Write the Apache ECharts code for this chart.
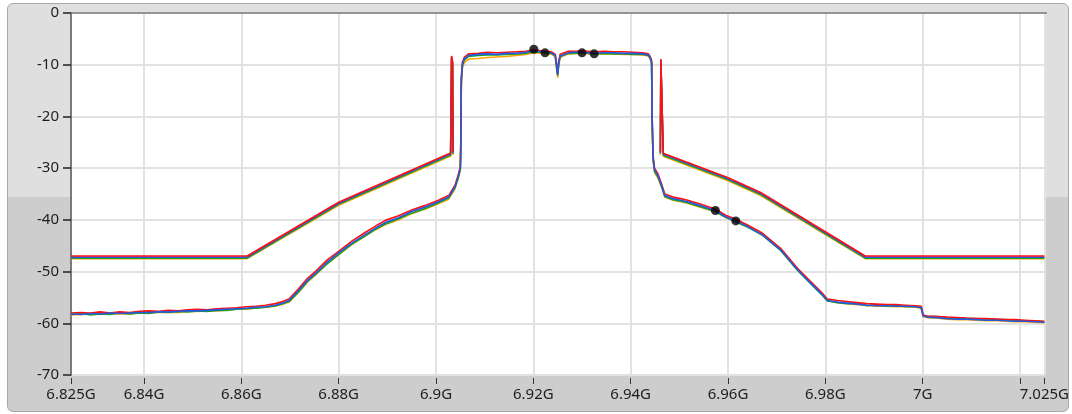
<!DOCTYPE html>
<html>
<head>
<meta charset="utf-8">
<script src="https://cdn.jsdelivr.net/npm/echarts@6/dist/echarts.min.js"></script>
<style>
html,body{margin:0;padding:0;background:#fff;width:1072px;height:414px;overflow:hidden;}
#frame{position:absolute;left:7px;top:3px;width:1060px;height:407px;border:1px solid #a8a8a8;border-radius:6px;
background:linear-gradient(to bottom,#dfdfdf 0px,#dfdfdf 193px,#cdcdcd 193px,#cdcdcd 100%);}
#chart{position:absolute;left:0;top:0;width:1072px;height:414px;}
</style>
</head>
<body>
<div id="frame"></div>
<div id="chart"></div>
<script>
// Axis ticks (GHz)
const xTickValues = [6.825, 6.84, 6.86, 6.88, 6.9, 6.92, 6.94, 6.96, 6.98, 7.0, 7.02, 7.025];
const xTickLabels = ['6.825G','6.84G','6.86G','6.88G','6.9G','6.92G','6.94G','6.96G','6.98G','7G','','7.025G'];
const yTickValues = [0, -10, -20, -30, -40, -50, -60, -70];
const yTickLabels = ['0', '-10', '-20', '-30', '-40', '-50', '-60', '-70'];

// Spectrum traces (frequency in GHz, level in dB)
const specFreq = [6.825,6.827,6.829,6.831,6.833,6.835,6.837,6.839,6.841,6.843,6.845,6.847,6.849,6.851,6.853,6.855,6.857,6.859,6.861,6.863,6.865,6.867,6.8685,6.8698,6.8718,6.8736,6.8753,6.8776,6.8800,6.8827,6.8855,6.8876,6.8896,6.8923,6.8950,6.8978,6.9005,6.9026,6.9039,6.9046,6.9050,6.9051,6.9052,6.9054,6.9058,6.9067,6.9087,6.9105,6.9125,6.9145,6.9165,6.9185,6.9201,6.9224,6.9237,6.9245,6.9248,6.9250,6.9252,6.9255,6.9272,6.9285,6.9300,6.9325,6.9345,6.9365,6.9385,6.9405,6.9425,6.9436,6.9440,6.9443,6.9444,6.9446,6.9449,6.9456,6.9464,6.9470,6.9487,6.9503,6.9517,6.9538,6.9558,6.9574,6.9595,6.9616,6.9640,6.9671,6.9708,6.9743,6.9777,6.9792,6.9804,6.9825,6.9845,6.9865,6.9885,6.9905,6.9925,6.9945,6.9965,6.9985,6.9997,7.0001,7.0009,7.0030,7.0050,7.0071,7.0090,7.0110,7.0130,7.0153,7.0170,7.0190,7.0210,7.0230,7.0250];
const specBlue = [-58.2,-58.3,-58.1,-58.2,-58.0,-58.1,-58.0,-57.9,-57.9,-57.8,-57.8,-57.7,-57.6,-57.6,-57.5,-57.4,-57.3,-57.2,-57.1,-56.9,-56.8,-56.5,-56.1,-55.6,-53.6,-51.7,-50.3,-48.2,-46.4,-44.5,-42.8,-41.6,-40.5,-39.6,-38.4,-37.5,-36.5,-35.6,-33.6,-31.5,-30.0,-25.0,-13.0,-10.0,-8.9,-8.2,-8.0,-7.9,-8.0,-7.8,-7.8,-7.6,-7.3,-7.6,-7.7,-8.2,-10.5,-12.0,-9.8,-8.3,-7.7,-7.6,-7.6,-7.8,-7.7,-7.7,-7.8,-7.8,-7.9,-8.1,-8.6,-9.5,-20.0,-28.0,-30.4,-31.5,-33.5,-35.3,-35.9,-36.2,-36.5,-37.1,-37.7,-38.2,-39.4,-40.2,-41.3,-42.9,-45.8,-49.7,-52.9,-54.3,-55.6,-55.9,-56.1,-56.3,-56.5,-56.6,-56.6,-56.7,-56.7,-56.8,-57.0,-58.6,-58.8,-58.9,-59.1,-59.2,-59.2,-59.3,-59.4,-59.4,-59.5,-59.6,-59.6,-59.7,-59.8];
const specRed = [-58.0,-57.9,-58.0,-57.8,-58.0,-57.8,-57.9,-57.7,-57.6,-57.7,-57.5,-57.6,-57.4,-57.3,-57.4,-57.2,-57.1,-57.0,-56.8,-56.7,-56.5,-56.2,-55.8,-55.3,-53.3,-51.3,-49.9,-47.8,-46.1,-44.1,-42.4,-41.2,-40.1,-39.2,-38.1,-37.2,-36.2,-35.3,-33.3,-31.2,-29.6,-24.0,-12.5,-9.6,-8.6,-7.9,-7.8,-7.6,-7.7,-7.6,-7.5,-7.4,-7.1,-7.4,-7.5,-8.0,-10.0,-11.5,-9.4,-8.0,-7.4,-7.4,-7.3,-7.5,-7.4,-7.5,-7.5,-7.6,-7.7,-7.9,-8.4,-9.2,-19.5,-27.5,-30.0,-31.1,-33.2,-35.0,-35.6,-35.9,-36.2,-36.8,-37.4,-37.9,-39.1,-39.9,-41.0,-42.6,-45.5,-49.4,-52.6,-54.0,-55.3,-55.6,-55.8,-56.0,-56.2,-56.3,-56.4,-56.4,-56.5,-56.6,-56.7,-58.4,-58.6,-58.7,-58.8,-58.9,-59.0,-59.1,-59.1,-59.2,-59.3,-59.3,-59.4,-59.5,-59.6];
const specGreen = [-58.3,-58.1,-58.4,-58.2,-58.3,-58.0,-58.2,-58.0,-58.1,-57.8,-57.9,-57.7,-57.8,-57.6,-57.7,-57.5,-57.5,-57.3,-57.2,-57.1,-56.9,-56.6,-56.2,-55.8,-53.9,-51.9,-50.5,-48.5,-46.7,-44.7,-43.1,-41.8,-40.8,-39.8,-38.7,-37.8,-36.7,-35.8,-33.8,-31.7,-30.2,-25.5,-13.5,-10.3,-9.1,-8.4,-8.2,-8.1,-8.1,-8.0,-7.9,-7.8,-7.5,-7.7,-7.8,-8.3,-10.6,-12.0,-10.0,-8.4,-7.8,-7.8,-7.7,-7.9,-7.8,-7.9,-7.9,-8.0,-8.0,-8.2,-8.7,-9.6,-20.5,-28.2,-30.6,-31.7,-33.7,-35.5,-36.1,-36.4,-36.7,-37.3,-37.9,-38.4,-39.5,-40.4,-41.4,-43.0,-45.9,-49.8,-53.0,-54.4,-55.7,-56.0,-56.2,-56.1,-56.6,-56.4,-56.7,-56.5,-56.8,-56.7,-57.0,-58.5,-58.7,-58.7,-59.0,-59.0,-59.1,-59.1,-59.2,-59.3,-59.3,-59.4,-59.5,-59.5,-59.7];
const specOrange = [-58.4,-58.3,-58.2,-58.3,-58.1,-58.2,-58.2,-58.0,-58.0,-57.9,-57.9,-57.9,-57.7,-57.7,-57.6,-57.6,-57.4,-57.3,-57.3,-57.0,-56.9,-56.7,-56.3,-55.9,-54.0,-52.0,-50.6,-48.5,-46.7,-44.8,-43.1,-41.9,-40.9,-40.0,-38.8,-37.9,-36.9,-36.0,-34.0,-31.9,-30.4,-26.0,-14.0,-10.8,-9.6,-8.9,-8.8,-8.6,-8.5,-8.4,-8.2,-8.0,-7.7,-7.8,-7.9,-8.5,-11.0,-12.5,-10.3,-8.6,-7.9,-7.8,-7.8,-7.9,-7.9,-7.9,-8.0,-8.0,-8.1,-8.3,-8.8,-9.8,-21.0,-28.5,-30.8,-31.9,-33.9,-35.6,-36.2,-36.5,-36.8,-37.4,-38.0,-38.4,-39.5,-40.3,-41.2,-42.8,-45.6,-49.5,-52.8,-54.2,-55.6,-56.0,-56.2,-56.4,-56.5,-56.7,-56.7,-56.8,-56.8,-56.9,-57.1,-58.7,-58.9,-59.0,-59.2,-59.3,-59.3,-59.4,-59.5,-59.5,-59.6,-59.7,-59.7,-59.8,-59.9];

// Upper limit traces (gap inside the channel)
const maskFreq = [6.825, 6.8612, 6.8800, 6.9024, 6.9030, 6.9032, 6.9034, 6.9035, 6.925, 6.9461, 6.9462, 6.9464, 6.9467, 6.9472, 6.9599, 6.9667, 6.9882, 7.025];
const maskRed = [-47.0, -47.0, -36.6, -27.3, -27.1, -8.3, -9.4, -26.8, null, -26.8, -8.9, -8.7, -27.1, -27.3, -31.8, -34.7, -47.0, -47.0];
const maskBlue = [-47.2, -47.2, -36.8, -27.5, -27.3, -8.5, -9.6, -27.0, null, -27.0, -9.1, -8.9, -27.3, -27.5, -32.0, -34.9, -47.2, -47.2];
const maskGreen = [-47.4, -47.4, -37.0, -27.7, -27.5, -8.8, -9.8, -27.2, null, -27.2, -9.3, -9.1, -27.5, -27.7, -32.2, -35.1, -47.4, -47.4];
const maskOrange = [-47.5, -47.5, -37.2, -27.9, -27.7, -9.0, -10.0, -27.4, null, -27.4, -9.5, -9.3, -27.7, -27.9, -32.4, -35.3, -47.5, -47.5];

// Markers
const markerFreq = [6.9201, 6.9224, 6.9300, 6.9325, 6.9574, 6.9616];
const markerLevel = [-7.0, -7.7, -7.7, -7.9, -38.2, -40.2];

const pairs = (fs, vs) => fs.map((f, i) => [f, vs[i]]);
const RED = '#ff1010', GREEN = '#1fa41f', ORANGE = '#ffa500', BLUE = '#2459e0';
const lineSeries = (name, fs, vs, color) => ({
  name, type: 'line', data: pairs(fs, vs), showSymbol: false, symbol: 'none',
  connectNulls: false, lineStyle: { color, width: 1.6 }, itemStyle: { color },
  sampling: null, animation: false, z: 3
});
const lookup = (vals, labels) => v => { const i = vals.findIndex(t => Math.abs(t - v) < 1e-7); return i >= 0 ? labels[i] : ''; };

const GRID = { left: 71, top: 13, width: 976, height: 362 };
const chart = echarts.init(document.getElementById('chart'), null, { renderer: 'canvas' });
const labelFont = { fontFamily: 'Noto Sans', fontSize: 15, color: '#1e1e1e' };
chart.setOption({
  animation: false,
  grid: Object.assign({ show: true, backgroundColor: '#ffffff', borderWidth: 0, containLabel: false }, GRID),
  graphic: [{
    type: 'line', z: 10, silent: true,
    shape: { x1: GRID.left, y1: GRID.top, x2: GRID.left + GRID.width, y2: GRID.top },
    style: { stroke: '#7a7a7a', lineWidth: 1.5 }
  }],
  xAxis: {
    type: 'value', min: 6.825, max: 7.025, position: 'bottom', offset: 3,
    axisLine: { show: false, onZero: false },
    axisTick: { show: true, inside: false, length: 6, customValues: xTickValues, lineStyle: { color: '#333', width: 1 } },
    axisLabel: Object.assign({
      customValues: xTickValues.filter((v, i) => xTickLabels[i] !== ''),
      margin: 9,
      formatter: lookup(xTickValues, xTickLabels)
    }, labelFont),
    splitLine: { show: true, lineStyle: { color: '#e2e2e2', width: 2 } }
  },
  yAxis: {
    type: 'value', min: -70, max: 0, position: 'left',
    axisLine: { show: true, onZero: false, lineStyle: { color: '#7a7a7a', width: 2 } },
    axisTick: { show: true, inside: false, length: 8, customValues: yTickValues, lineStyle: { color: '#222', width: 1.5 } },
    axisLabel: Object.assign({
      margin: 12, align: 'right', verticalAlign: 'middle',
      customValues: yTickValues,
      formatter: lookup(yTickValues, yTickLabels)
    }, labelFont),
    splitLine: { show: true, lineStyle: { color: '#e2e2e2', width: 2 } }
  },
  series: [
    lineSeries('limit orange', maskFreq, maskOrange, ORANGE),
    lineSeries('limit green', maskFreq, maskGreen, GREEN),
    lineSeries('limit blue', maskFreq, maskBlue, BLUE),
    lineSeries('limit red', maskFreq, maskRed, RED),
    lineSeries('trace orange', specFreq, specOrange, ORANGE),
    lineSeries('trace green', specFreq, specGreen, GREEN),
    lineSeries('trace red', specFreq, specRed, RED),
    lineSeries('trace blue', specFreq, specBlue, BLUE),
    {
      name: 'markers', type: 'scatter', data: pairs(markerFreq, markerLevel),
      symbolSize: 9, itemStyle: { color: '#000' }, z: 5, animation: false
    }
  ]
});
</script>
</body>
</html>
